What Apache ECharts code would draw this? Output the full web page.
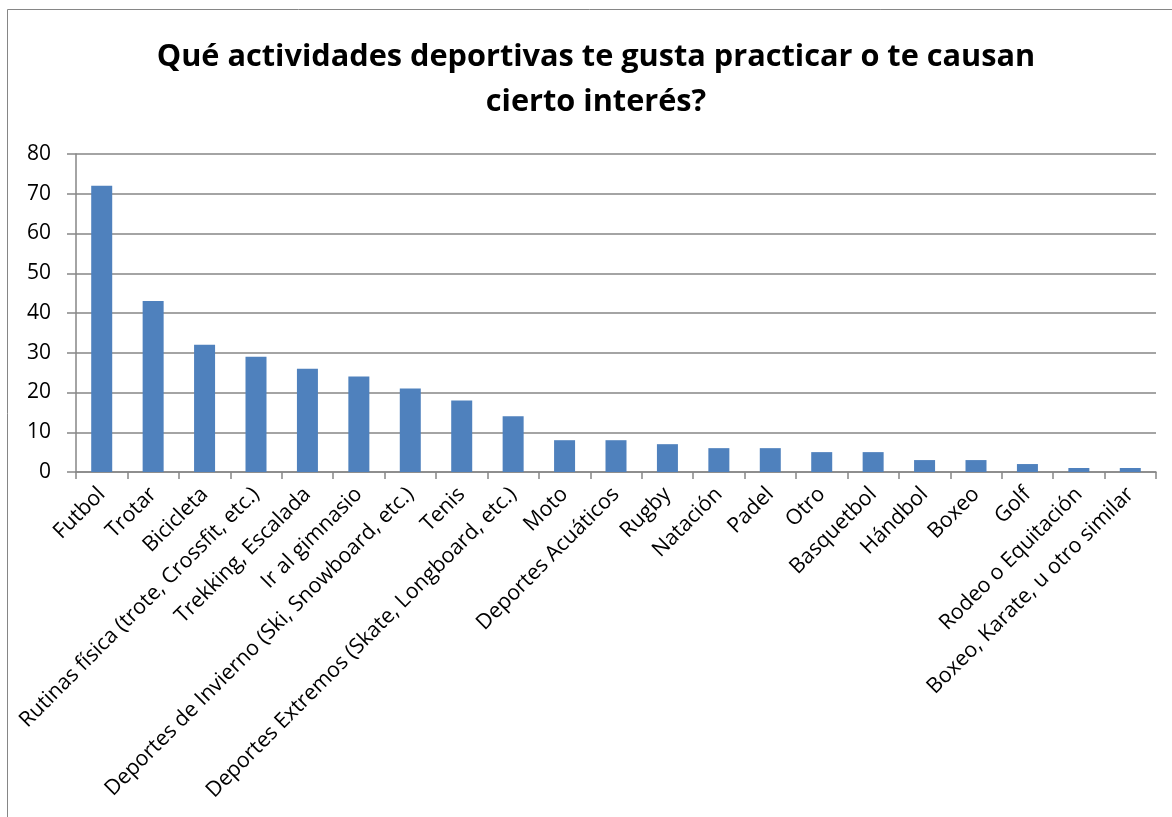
<!DOCTYPE html>
<html><head><meta charset="utf-8">
<script src="https://cdn.jsdelivr.net/npm/echarts@6/dist/echarts.min.js"></script>
<style>html,body{margin:0;padding:0;background:#fff}#c{width:1172px;height:817px}</style>
</head><body><div id="c"></div>
<script>
const titleText = "Qué actividades deportivas te gusta practicar o te causan\ncierto interés?";
const categories = ["Futbol","Trotar","Bicicleta","Rutinas física (trote, Crossfit, etc.)","Trekking, Escalada","Ir al gimnasio","Deportes de Invierno (Ski, Snowboard, etc.)","Tenis","Deportes Extremos (Skate, Longboard, etc.)","Moto","Deportes Acuáticos","Rugby","Natación","Padel","Otro","Basquetbol","Hándbol","Boxeo","Golf","Rodeo o Equitación","Boxeo, Karate, u otro similar"];
const values = [72,43,32,29,26,24,21,18,14,8,8,7,6,6,5,5,3,3,2,1,1];
const yTicks = {min:0,max:80,interval:10};

const chart = echarts.init(document.getElementById('c'));
const font = "'Open Sans', 'Noto Sans', sans-serif";
chart.setOption({
  animation:false,
  title:{text:titleText,left:591,textAlign:'center',top:30,textStyle:{fontFamily:font,fontSize:30.7,fontWeight:'bold',color:'#000',lineHeight:45}},
  graphic:[
    {type:'line',shape:{x1:7.5,y1:9.5,x2:1172,y2:9.5},style:{stroke:'#868686',lineWidth:1}},
    {type:'line',shape:{x1:7.5,y1:9.5,x2:7.5,y2:817},style:{stroke:'#868686',lineWidth:1}}
  ],
  grid:{left:76,top:154,right:16,bottom:345,containLabel:false},
  xAxis:{type:'category',data:categories,
    axisLine:{lineStyle:{color:'#868686',width:1.5}},
    axisTick:{show:true,length:7,alignWithLabel:false,lineStyle:{color:'#868686',width:1.5}},
    axisLabel:{interval:0,rotate:45,fontFamily:font,fontSize:21.3,color:'#000',margin:19}},
  yAxis:{type:'value',min:yTicks.min,max:yTicks.max,interval:yTicks.interval,
    axisLine:{show:true,lineStyle:{color:'#868686',width:1.5}},
    axisTick:{show:true,length:9,lineStyle:{color:'#868686',width:1.5}},
    splitLine:{lineStyle:{color:'#868686',width:1.5}},
    axisLabel:{fontFamily:font,fontSize:21,color:'#000',margin:25}},
  series:[{type:'bar',data:values,barWidth:21,itemStyle:{color:'#4F81BD'}}]
});
</script></body></html>
